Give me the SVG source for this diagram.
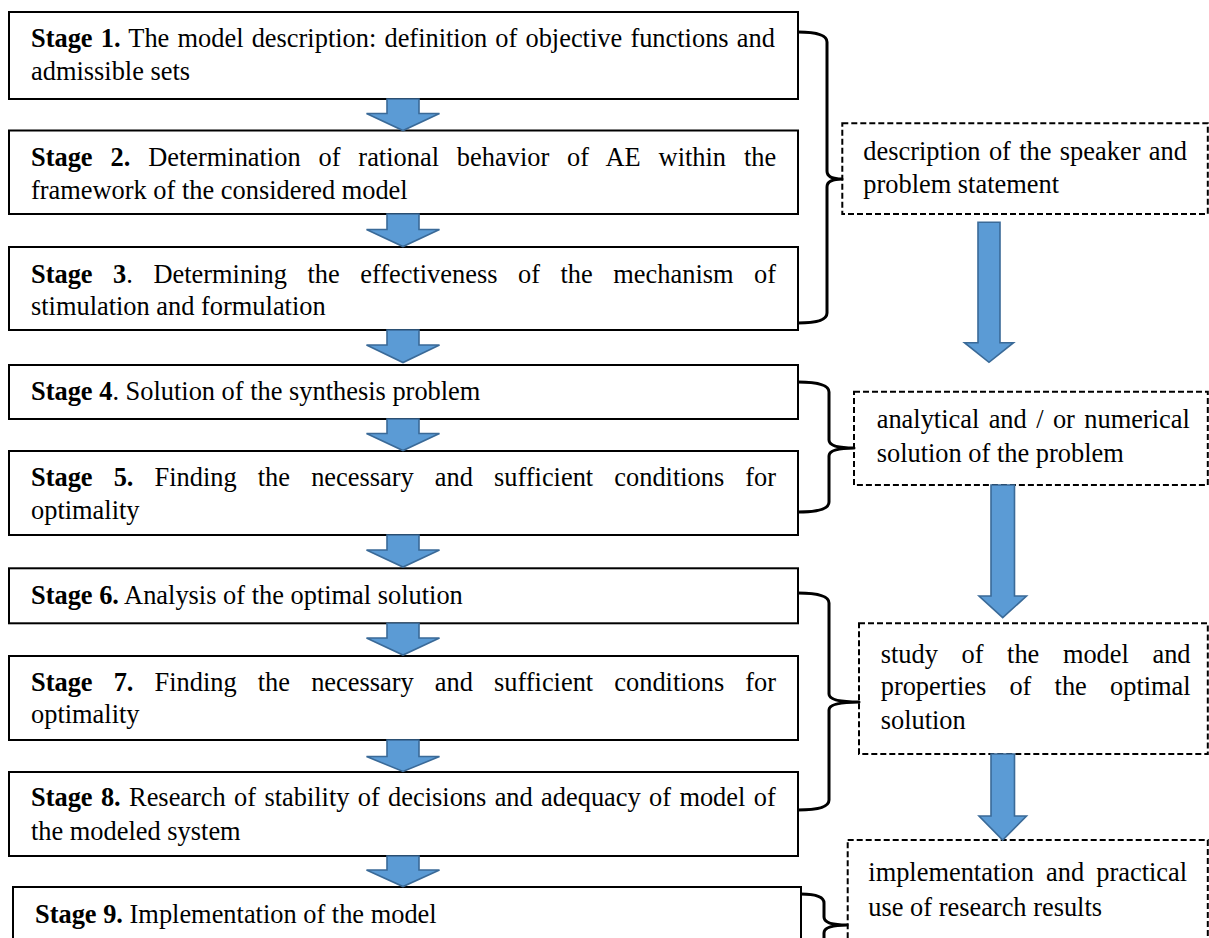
<svg xmlns="http://www.w3.org/2000/svg" width="1209" height="938" viewBox="0 0 1209 938">
<style>
  text { font-family: "Liberation Serif", "Times New Roman", serif; font-size: 26.4px; fill: #000; }
  .b { font-weight: bold; }
  .stage { fill: #fff; stroke: #000; stroke-width: 2; }
  .note { fill: #fff; stroke: #000; stroke-width: 2; stroke-dasharray: 6 3; }
  .arrow { fill: #5B9BD5; stroke: #3A6A98; stroke-width: 1.6; stroke-linejoin: miter; }
  .brace { fill: none; stroke: #000; stroke-width: 3; stroke-linejoin: round; }
</style>
<rect x="0" y="0" width="1209" height="938" fill="#fff"/>

<g id="stage1">
  <rect class="stage" x="9" y="12" width="789" height="87"/>
  <text x="31" y="46.7" style="word-spacing:1.6px"><tspan class="b">Stage 1.</tspan> The model description: definition of objective functions and</text>
  <text x="31" y="80">admissible sets</text>
</g>
<g id="stage2">
  <rect class="stage" x="9" y="130.5" width="789" height="83.5"/>
  <text x="31" y="165.7" style="word-spacing:11.3px"><tspan class="b">Stage 2.</tspan> Determination of rational behavior of AE within the</text>
  <text x="31" y="199">framework of the considered model</text>
</g>
<g id="stage3">
  <rect class="stage" x="9" y="247" width="789" height="83"/>
  <text x="31" y="282.5" style="word-spacing:13.95px"><tspan class="b">Stage 3</tspan>. Determining the effectiveness of the mechanism of</text>
  <text x="31" y="315">stimulation and formulation</text>
</g>
<g id="stage4">
  <rect class="stage" x="9" y="365" width="789" height="54"/>
  <text x="31" y="400"><tspan class="b">Stage 4</tspan>. Solution of the synthesis problem</text>
</g>
<g id="stage5">
  <rect class="stage" x="9" y="451" width="789" height="84"/>
  <text x="31" y="486" style="word-spacing:14.5px"><tspan class="b">Stage 5.</tspan> Finding the necessary and sufficient conditions for</text>
  <text x="31" y="518.5">optimality</text>
</g>
<g id="stage6">
  <rect class="stage" x="9" y="568.3" width="789" height="55"/>
  <text x="31" y="603.5"><tspan class="b">Stage 6.</tspan> Analysis of the optimal solution</text>
</g>
<g id="stage7">
  <rect class="stage" x="9" y="656" width="789" height="84"/>
  <text x="31" y="691" style="word-spacing:14.5px"><tspan class="b">Stage 7.</tspan> Finding the necessary and sufficient conditions for</text>
  <text x="31" y="723">optimality</text>
</g>
<g id="stage8">
  <rect class="stage" x="9" y="772" width="789" height="84"/>
  <text x="31" y="806" style="word-spacing:1.74px"><tspan class="b">Stage 8.</tspan> Research of stability of decisions and adequacy of model of</text>
  <text x="31" y="840">the modeled system</text>
</g>
<g id="stage9">
  <rect class="stage" x="13" y="887" width="788" height="80"/>
  <text x="35" y="923"><tspan class="b">Stage 9.</tspan> Implementation of the model</text>
</g>

<g id="note-description">
  <rect class="note" x="842.3" y="123.3" width="365.5" height="90.7"/>
  <text x="863.3" y="160" style="word-spacing:1.75px">description of the speaker and</text>
  <text x="863.3" y="193.3">problem statement</text>
</g>
<g id="note-solution">
  <rect class="note" x="854" y="391.7" width="353.8" height="93.3"/>
  <text x="876.7" y="428.3" style="word-spacing:2.8px">analytical and / or numerical</text>
  <text x="876.7" y="461.7">solution of the problem</text>
</g>
<g id="note-study">
  <rect class="note" x="859" y="623.3" width="348.8" height="130.7"/>
  <text x="880.7" y="662.7" style="word-spacing:17px">study of the model and</text>
  <text x="880.7" y="695" style="word-spacing:16.6px">properties of the optimal</text>
  <text x="880.7" y="729.3">solution</text>
</g>
<g id="note-implementation">
  <rect class="note" x="847.7" y="840" width="360.1" height="130"/>
  <text x="868.3" y="880.5" style="word-spacing:5.5px">implementation and practical</text>
  <text x="868.3" y="916">use of research results</text>
</g>

<g id="connectors">
  <path class="arrow" d="M387 99 L419 99 L419 113.5 L439.5 113.5 L403 130.5 L366.5 113.5 L387 113.5 Z"/>
  <path class="arrow" d="M387 214 L419 214 L419 229.5 L439.5 229.5 L403 246.5 L366.5 229.5 L387 229.5 Z"/>
  <path class="arrow" d="M387 330 L419 330 L419 345 L439.5 345 L403 362.5 L366.5 345 L387 345 Z"/>
  <path class="arrow" d="M387 419 L419 419 L419 433.5 L439.5 433.5 L403 450.5 L366.5 433.5 L387 433.5 Z"/>
  <path class="arrow" d="M387 535 L419 535 L419 550 L439.5 550 L403 567 L366.5 550 L387 550 Z"/>
  <path class="arrow" d="M387 623.3 L419 623.3 L419 638 L439.5 638 L403 655 L366.5 638 L387 638 Z"/>
  <path class="arrow" d="M387 740 L419 740 L419 756.5 L439.5 756.5 L403 771.5 L366.5 756.5 L387 756.5 Z"/>
  <path class="arrow" d="M387 856 L419 856 L419 870 L439.5 870 L403 886.5 L366.5 870 L387 870 Z"/>

  <path class="arrow" d="M978 222.3 L1000 222.3 L1000 342.7 L1013.5 342.7 L989 362.3 L964.5 342.7 L978 342.7 Z"/>
  <path class="arrow" d="M991 485 L1014.5 485 L1014.5 596 L1026.5 596 L1002.7 617.7 L979 596 L991 596 Z"/>
  <path class="arrow" d="M991 754 L1014.5 754 L1014.5 816 L1026.5 816 L1002.7 840 L979 816 L991 816 Z"/>

  <path class="brace" d="M798 32 Q827 32 827 42 L827 171 Q827 179 842 179 Q827 179 827 187 L827 313 Q827 323 798 323"/>
  <path class="brace" d="M798 382 Q829 382 829 392 L829 440 Q829 448 854 448 Q829 448 829 456 L829 502 Q829 512 798 512"/>
  <path class="brace" d="M798 593 Q829 593 829 603 L829 694 Q829 702 859 702 Q829 702 829 710 L829 800 Q829 810 798 810"/>
  <path class="brace" d="M801 894 Q824 894 824 903 L824 917 Q824 925 847 925 Q824 925 824 933 L824 960"/>
</g>
</svg>
